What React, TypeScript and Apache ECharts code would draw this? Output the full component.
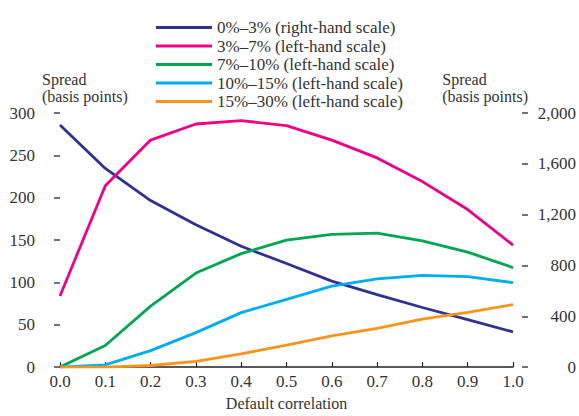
import React, { useEffect, useRef } from "react";
import * as echarts from "echarts";

const correlation = [0, 0.1, 0.2, 0.3, 0.4, 0.5, 0.6, 0.7, 0.8, 0.9, 1.0];
const seriesNames = [
  "0%–3% (right-hand scale)",
  "3%–7% (left-hand scale)",
  "7%–10% (left-hand scale)",
  "10%–15% (left-hand scale)",
  "15%–30% (left-hand scale)",
];
const tranche0to3 = [1906, 1564, 1311, 1121, 951, 815, 677, 570, 469, 373, 277];
const tranche3to7 = [84, 214, 268, 287, 291, 285, 268, 247, 219, 186, 144];
const tranche7to10 = [0, 25.5, 72, 111, 134, 150, 156.7, 158.2, 149, 135.8, 117.5];
const tranche10to15 = [0, 2.7, 19.4, 40.7, 64.3, 80, 95.5, 104.2, 108.4, 106.9, 99.7];
const tranche15to30 = [0, 0, 1.9, 6.8, 15.6, 26, 36.9, 45.6, 56.7, 64.7, 73.8];
const colors = ["#2e3192", "#ec008c", "#00a651", "#00aeef", "#f7941d"];

const FONT = "'Liberation Serif', 'Times New Roman', serif";
const TXT = "#333333";

export default function App() {
  const ref = useRef<HTMLDivElement>(null);
  useEffect(() => {
    if (!ref.current) return;
    const chart = echarts.init(ref.current, undefined, { renderer: "svg" });
    const allData = [tranche0to3, tranche3to7, tranche7to10, tranche10to15, tranche15to30];
    const series = allData.map((arr, i) => ({
      name: seriesNames[i],
      type: "line",
      yAxisIndex: i === 0 ? 1 : 0,
      data: arr.map((v, j) => [correlation[j], v]),
      showSymbol: false,
      symbol: "none",
      lineStyle: { color: colors[i], width: 2.8 },
      itemStyle: { color: colors[i] },
      z: i === 0 ? 2 : 3,
    }));
    chart.setOption({
      animation: false,
      textStyle: { fontFamily: FONT, color: TXT },
      grid: { left: 60, right: 65, top: 113, bottom: 40, containLabel: false },
      legend: {
        orient: "vertical",
        left: 151,
        top: 14,
        icon: "rect",
        itemWidth: 56,
        itemHeight: 3,
        itemGap: 1.5,
        data: seriesNames,
        textStyle: { fontFamily: FONT, fontSize: 17, color: TXT, lineHeight: 17 },
        selectedMode: false,
      },
      xAxis: {
        type: "value",
        min: 0,
        max: 1,
        interval: 0.1,
        name: "Default correlation",
        nameLocation: "middle",
        nameGap: 24,
        nameTextStyle: { fontFamily: FONT, fontSize: 16, color: TXT },
        axisLine: { show: true, lineStyle: { color: "#222", width: 1.5 } },
        axisTick: { show: true, inside: true, length: 5, lineStyle: { color: "#222", width: 1.2 } },
        axisLabel: {
          margin: 6,
          fontFamily: FONT,
          fontSize: 17,
          color: TXT,
          formatter: (v: number) => v.toFixed(1),
        },
        splitLine: { show: false },
      },
      yAxis: [
        {
          type: "value",
          min: 0,
          max: 300,
          interval: 50,
          offset: 10,
          axisLine: { show: false },
          axisTick: { show: true, length: 6, inside: false, lineStyle: { color: "#444", width: 1.5 } },
          axisLabel: { margin: 15, fontFamily: FONT, fontSize: 17, color: TXT },
          splitLine: { show: false },
        },
        {
          type: "value",
          position: "right",
          min: 0,
          max: 2000,
          interval: 400,
          offset: 9,
          axisLine: { show: false },
          axisTick: { show: true, length: 6, inside: false, lineStyle: { color: "#444", width: 1.5 } },
          axisLabel: {
            margin: 54,
            align: "right",
            fontFamily: FONT,
            fontSize: 17,
            color: TXT,
            formatter: (v: number) => v.toLocaleString("en-US"),
          },
          splitLine: { show: false },
        },
      ],
      graphic: [
        {
          type: "text",
          left: 42,
          top: 71,
          style: { text: "Spread\n(basis points)", fontFamily: FONT, fontSize: 16, lineHeight: 17, fill: TXT, align: "left" },
        },
        {
          type: "text",
          right: 579 - 528,
          top: 71,
          style: { text: "Spread\n(basis points)", fontFamily: FONT, fontSize: 16, lineHeight: 17, fill: TXT, align: "right" },
        },
      ],
      series,
    });
    return () => chart.dispose();
  }, []);
  return <div ref={ref} style={{ width: 579, height: 416, position: "absolute", left: 0, top: 0 }} />;
}
